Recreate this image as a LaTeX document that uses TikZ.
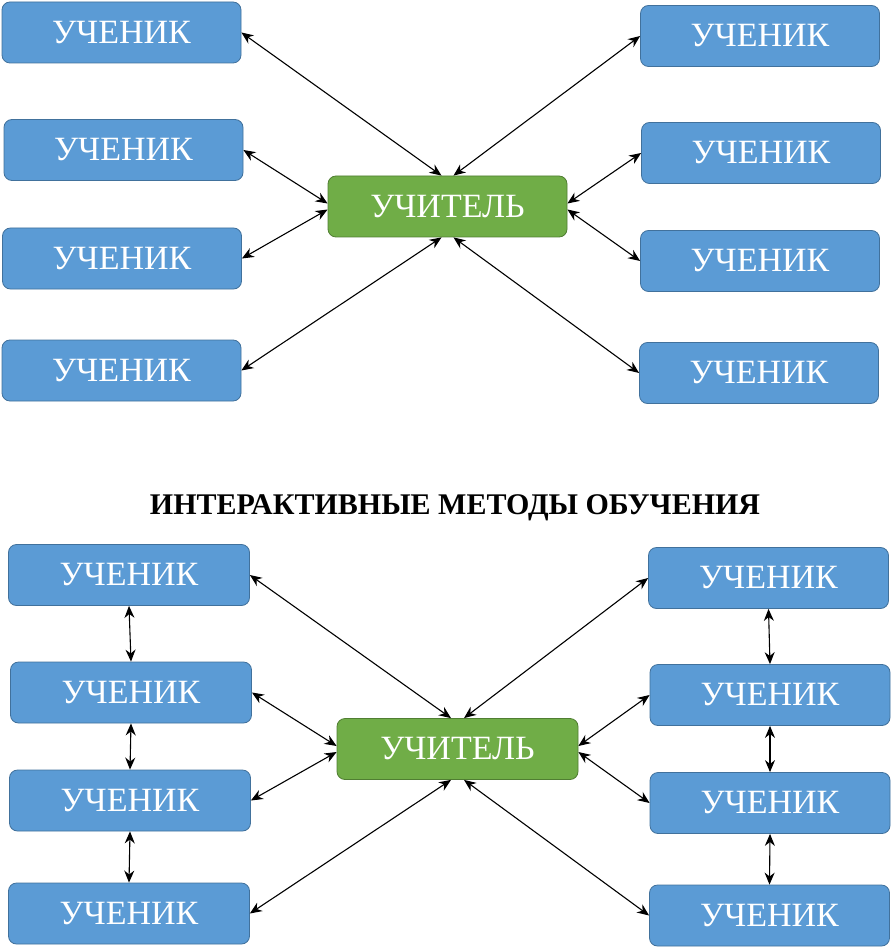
\documentclass[tikz,border=0pt]{standalone}
\usepackage{fontspec}
\setmainfont{Liberation Serif}
\usetikzlibrary{arrows.meta}
\definecolor{stfill}{HTML}{5B9BD5}
\definecolor{stdraw}{HTML}{41719C}
\definecolor{tcfill}{HTML}{70AD47}
\definecolor{tcdraw}{HTML}{507E32}
\tikzset{
  stud/.style={draw=stdraw, fill=stfill, line width=0.8pt, rounded corners=8pt,
    minimum width=239pt, minimum height=61pt, inner sep=0pt, text=white,
    font=\fontsize{34}{36}\selectfont},
  teach/.style={stud, draw=tcdraw, fill=tcfill},
  link/.style={line width=1.1pt, {Stealth[length=12pt,width=10pt]}-{Stealth[length=12pt,width=10pt]}}
}
\begin{document}
\begin{tikzpicture}[x=1pt,y=-1pt]
\useasboundingbox (0,0) rectangle (892,949);
% top diagram
\node[stud] (l1) at (121.5,32.5) {УЧЕНИК};
\node[stud] (l2) at (123.5,150) {УЧЕНИК};
\node[stud] (l3) at (122,258.5) {УЧЕНИК};
\node[stud] (l4) at (121.5,370.5) {УЧЕНИК};
\node[stud] (r1) at (760,36) {УЧЕНИК};
\node[stud] (r2) at (761,153) {УЧЕНИК};
\node[stud] (r3) at (760,261) {УЧЕНИК};
\node[stud] (r4) at (759,373) {УЧЕНИК};
\node[teach] (t1) at (447.5,206.5) {УЧИТЕЛЬ};
\draw[link] (l1.east) -- ([xshift=-6pt]t1.north);
\draw[link] (r1.west) -- ([xshift=6pt]t1.north);
\draw[link] (l4.east) -- ([xshift=-6pt]t1.south);
\draw[link] (r4.west) -- ([xshift=6pt]t1.south);
\draw[link] (l2.east) -- ([yshift=3pt]t1.west);
\draw[link] (l3.east) -- ([yshift=-3pt]t1.west);
\draw[link] (r2.west) -- ([yshift=3pt]t1.east);
\draw[link] (r3.west) -- ([yshift=-3pt]t1.east);
% title
\node[font=\bfseries\fontsize{30}{32}\selectfont] (title) at (455,508) {ИНТЕРАКТИВНЫЕ МЕТОДЫ ОБУЧЕНИЯ};
% bottom diagram
\node[stud, minimum width=241pt] (bl1) at (129,575) {УЧЕНИК};
\node[stud, minimum width=241pt] (bl2) at (131,692.5) {УЧЕНИК};
\node[stud, minimum width=241pt] (bl3) at (130,800.5) {УЧЕНИК};
\node[stud, minimum width=241pt] (bl4) at (129,913.5) {УЧЕНИК};
\node[stud, minimum width=240pt] (br1) at (768.5,578) {УЧЕНИК};
\node[stud, minimum width=240pt] (br2) at (770,695) {УЧЕНИК};
\node[stud, minimum width=240pt] (br3) at (770,803) {УЧЕНИК};
\node[stud, minimum width=240pt] (br4) at (769.5,915.5) {УЧЕНИК};
\node[teach, minimum width=241pt] (t2) at (457.5,749) {УЧИТЕЛЬ};
\draw[link] (bl1.east) -- ([xshift=-6.5pt]t2.north);
\draw[link] (br1.west) -- ([xshift=6.5pt]t2.north);
\draw[link] (bl4.east) -- ([xshift=-6.5pt]t2.south);
\draw[link] (br4.west) -- ([xshift=6.5pt]t2.south);
\draw[link] (bl2.east) -- ([yshift=3pt]t2.west);
\draw[link] (bl3.east) -- ([yshift=-3pt]t2.west);
\draw[link] (br2.west) -- ([yshift=3pt]t2.east);
\draw[link] (br3.west) -- ([yshift=-3pt]t2.east);
\draw[link] (bl1.south) -- (bl2.north);
\draw[link] (bl2.south) -- (bl3.north);
\draw[link] (bl3.south) -- (bl4.north);
\draw[link] (br1.south) -- (br2.north);
\draw[link] (br2.south) -- (br3.north);
\draw[link] (br3.south) -- (br4.north);
\end{tikzpicture}
\end{document}
